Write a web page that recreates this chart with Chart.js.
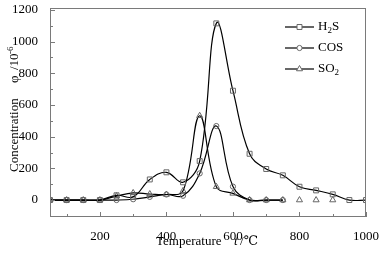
<!DOCTYPE html>
<html lang="en">
<head>
  <meta charset="UTF-8">
  <title>Concentration vs Temperature</title>
  <script src="https://cdn.jsdelivr.net/npm/chart.js"></script>
  <style>
    html, body { margin: 0; padding: 0; background: #fff; }
    canvas { display: block; }
  </style>
</head>
<body>
  <canvas id="gasChart" width="385" height="255"></canvas>

  <script>
    // Data
    const temps = [50, 100, 150, 200, 250, 300, 350, 400, 450, 500, 550, 600, 650, 700, 750, 800, 850, 900, 950, 1000];
    const h2s = [0, 0, 0, 0, 30, 20, 130, 175, 112, 246, 1115, 690, 292, 196, 156, 84, 61, 36, 0, 0];
    const cos = [0, 0, 0, 0, 0, 5, 20, 35, 27, 168, 467, 85, 0, 0, 0];
    const so2 = [0, 0, 0, 0, 25, 45, 38, 35, 58, 532, 84, 42, 0, 0, 0, 0, 0, 0];
    const xTicks = [200, 400, 600, 800, 1000];
    const yTicks = [0, 200, 400, 600, 800, 1000, 1200];

    const FONT = "'Liberation Serif', 'Times New Roman', 'DejaVu Serif', serif";
    const FRAME = '#7a7a7a';

    function toPoints(values) {
      return values.map((v, i) => ({ x: temps[i], y: v }));
    }

    // frame and inward ticks
    const framePlugin = {
      id: 'frame',
      afterDraw(chart) {
        const { ctx, chartArea: a, scales } = chart;
        ctx.save();
        ctx.strokeStyle = FRAME;
        ctx.lineWidth = 1;
        ctx.strokeRect(a.left + 0.5, a.top + 0.5, a.right - a.left - 1, a.bottom - a.top - 1);
        ctx.beginPath();
        for (let v = 100; v <= 1000; v += 100) {
          const x = Math.round(scales.x.getPixelForValue(v)) + 0.5;
          const len = v % 200 === 0 ? 5 : 3;
          ctx.moveTo(x, a.bottom);
          ctx.lineTo(x, a.bottom - len);
        }
        for (let v = -100; v <= 1200; v += 100) {
          const y = Math.round(scales.y.getPixelForValue(v)) + 0.5;
          const len = v % 200 === 0 ? 5 : 3;
          ctx.moveTo(a.left, y);
          ctx.lineTo(a.left + len, y);
        }
        ctx.stroke();
        ctx.restore();
      }
    };

    // axis titles with italic / superscript parts
    const titlePlugin = {
      id: 'titles',
      afterDraw(chart) {
        const ctx = chart.ctx;
        ctx.save();
        ctx.fillStyle = '#000';
        ctx.textBaseline = 'middle';
        ctx.textAlign = 'left';

        // x title
        ctx.font = '13px ' + FONT;
        ctx.fillText('Temperature', 156, 242);
        ctx.font = 'italic 13px ' + FONT;
        ctx.fillText('t', 234, 242);
        ctx.font = '13px ' + FONT;
        ctx.fillText('/℃', 240, 242);

        // y title
        ctx.translate(15, 172);
        ctx.rotate(-Math.PI / 2);
        ctx.font = '13px ' + FONT;
        ctx.fillText('Concentration', 0, 0);
        ctx.fillText('φ', 89, 0);
        ctx.fillText('/10', 102, 0);
        ctx.font = '9px ' + FONT;
        ctx.fillText('-6', 118, -4);
        ctx.restore();
      }
    };

    // legend: line + marker, label with subscripts
    const legendItems = [
      { parts: [['H', false], ['2', true], ['S', false]], y: 27 },
      { parts: [['COS', false]], y: 48 },
      { parts: [['SO', false], ['2', true]], y: 69 }
    ];
    const legendPlugin = {
      id: 'markLegend',
      afterDraw(chart) {
        const ctx = chart.ctx;
        ctx.save();
        legendItems.forEach((item, i) => {
          const ds = chart.data.datasets[i];
          ctx.strokeStyle = '#000';
          ctx.lineWidth = 1.2;
          ctx.beginPath();
          ctx.moveTo(285, item.y);
          ctx.lineTo(314, item.y);
          ctx.stroke();
          ctx.fillStyle = '#fff';
          ctx.strokeStyle = ds.pointBorderColor;
          ctx.lineWidth = 1;
          Chart.helpers.drawPoint(ctx, {
            pointStyle: ds.pointStyle,
            radius: ds.pointRadius,
            borderWidth: 1,
            rotation: 0
          }, 299.5, item.y);
          let x = 318;
          ctx.fillStyle = '#000';
          ctx.textBaseline = 'middle';
          item.parts.forEach(([txt, sub]) => {
            ctx.font = (sub ? '9px ' : '13px ') + FONT;
            ctx.fillText(txt, x, item.y + (sub ? 4 : 0));
            x += ctx.measureText(txt).width;
          });
        });
        ctx.restore();
      }
    };

    const lineStyle = {
      borderColor: '#000',
      borderWidth: 1.2,
      tension: 0.4,
      pointBorderColor: '#666',
      pointBackgroundColor: 'rgba(255,255,255,0)',
      pointBorderWidth: 1,
      fill: false
    };

    new Chart(document.getElementById('gasChart'), {
      type: 'line',
      data: {
        datasets: [
          Object.assign({ label: 'H2S', data: toPoints(h2s), pointStyle: 'rect', pointRadius: 3.5 }, lineStyle),
          Object.assign({ label: 'COS', data: toPoints(cos), pointStyle: 'circle', pointRadius: 2.6 }, lineStyle),
          Object.assign({
            label: 'SO2', data: toPoints(so2), pointStyle: 'triangle', pointRadius: 3.5,
            segment: { borderColor: c => c.p0.parsed.x >= 750 ? 'rgba(0,0,0,0)' : undefined }
          }, lineStyle)
        ]
      },
      options: {
        responsive: false,
        animation: false,
        devicePixelRatio: 1,
        layout: { padding: { top: 8, right: 19, left: 0, bottom: 0 } },
        plugins: { legend: { display: false }, tooltip: { enabled: false } },
        scales: {
          x: {
            type: 'linear',
            min: 50,
            max: 1000,
            afterBuildTicks: s => { s.ticks = xTicks.map(v => ({ value: v })); },
            afterFit: s => { s.height = 38; s.paddingLeft = 0; s.paddingRight = 0; },
            grid: { display: false },
            border: { display: false },
            ticks: {
              color: '#000', font: { family: FONT, size: 13 }, padding: 4, autoSkip: false, maxRotation: 0,
              callback: v => String(v)
            }
          },
          y: {
            min: -107,
            max: 1212,
            afterBuildTicks: s => { s.ticks = yTicks.map(v => ({ value: v })); },
            afterFit: s => { s.width = 50; s.paddingTop = 0; s.paddingBottom = 0; },
            grid: { display: false },
            border: { display: false },
            ticks: {
              color: '#000', font: { family: FONT, size: 13 }, padding: 4, autoSkip: false,
              callback: v => String(v)
            }
          }
        }
      },
      plugins: [framePlugin, titlePlugin, legendPlugin]
    });
  </script>
</body>
</html>
